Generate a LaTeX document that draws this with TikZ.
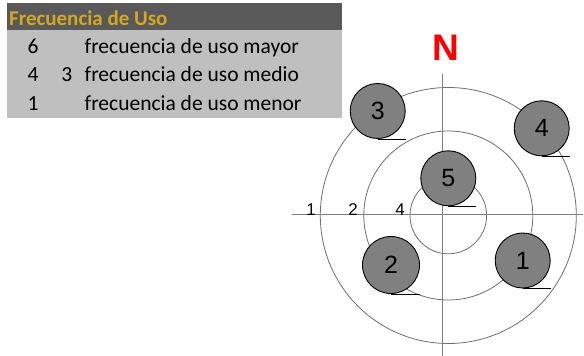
\documentclass[tikz,border=0pt]{standalone}
\usepackage{fontspec}
\setmainfont{Liberation Sans}
\newfontfamily\calib{Carlito}
\definecolor{hdrgrey}{RGB}{89,89,89}
\definecolor{bodygrey}{RGB}{191,191,191}
\definecolor{gold}{RGB}{210,168,38}
\definecolor{ballgrey}{RGB}{128,128,128}
\definecolor{ringgrey}{RGB}{110,110,110}
\definecolor{axisgrey}{RGB}{128,128,128}
\begin{document}
\begin{tikzpicture}[x=1pt,y=-1pt,
  ball/.style={circle, draw=black, fill=ballgrey, line width=0.9pt, minimum size=55pt, inner sep=0pt, font=\fontsize{25}{25}\selectfont},
  ring/.style={draw=ringgrey, line width=0.8pt},
  axisline/.style={draw=axisgrey, line width=1pt},
  lab/.style={font=\fontsize{17}{17}\selectfont, anchor=base, inner sep=0pt},
  legtxt/.style={font=\calib\fontsize{21.5}{21.5}\selectfont, anchor=base west, inner sep=0pt},
  legnum/.style={font=\calib\fontsize{21.5}{21.5}\selectfont, anchor=base, inner sep=0pt},
  uline/.style={draw=black, line width=0.9pt}]
\useasboundingbox (0,0) rectangle (584,356);
% legend
\fill[hdrgrey] (7,3.3) rectangle (342,29.5);
\fill[bodygrey] (7,29.5) rectangle (342,117.5);
\node[legtxt, font=\calib\bfseries\fontsize{21}{21}\selectfont, text=gold] (title) at (9,25) {Frecuencia de Uso};
\node[legnum] (n6) at (33,53.3) {6};
\node[legnum] (n4) at (33,81.7) {4};
\node[legnum] (n3) at (66.7,81.7) {3};
\node[legnum] (n1) at (33,110) {1};
\node[legtxt] (t1) at (84.5,53.3) {frecuencia de uso mayor};
\node[legtxt] (t2) at (84.5,81.7) {frecuencia de uso medio};
\node[legtxt] (t3) at (84.5,110) {frecuencia de uso menor};
% rings
\coordinate (c) at (448.3,215.5);
\draw[ring] (c) circle[radius=128pt];
\draw[ring] (c) circle[radius=84.5pt];
\draw[ring] (c) circle[radius=38.3pt];
% axes
\coordinate (hl) at (292,214.5);
\coordinate (hr) at (583,214.5);
\coordinate (vt) at (442.5,73.5);
\coordinate (vb) at (442.5,356);
\draw[axisline] (hl) -- (hr);
\draw[axisline] (vt) -- (vb);
% axis labels
\node[lab] (l1) at (311,215) {1};
\node[lab] (l2) at (353,215) {2};
\node[lab] (l4) at (400,215) {4};
% north
\node[font=\bfseries\fontsize{37}{37}\selectfont, text=red, inner sep=0pt] (N) at (445.5,47.5) {N};
% balls
\node[ball] (b3) at (377.7,111) {3};
\node[ball] (b4) at (541.7,128.3) {4};
\node[ball] (b5) at (448.3,178.3) {5};
\node[ball, minimum size=57pt] (b2) at (391,265) {2};
\node[ball] (b1) at (522.7,260.5) {1};
\foreach \b in {b1,b2,b3,b4,b5}{
  \draw[uline] (\b.south) -- (\b.south -| \b.east);
}
\end{tikzpicture}
\end{document}
